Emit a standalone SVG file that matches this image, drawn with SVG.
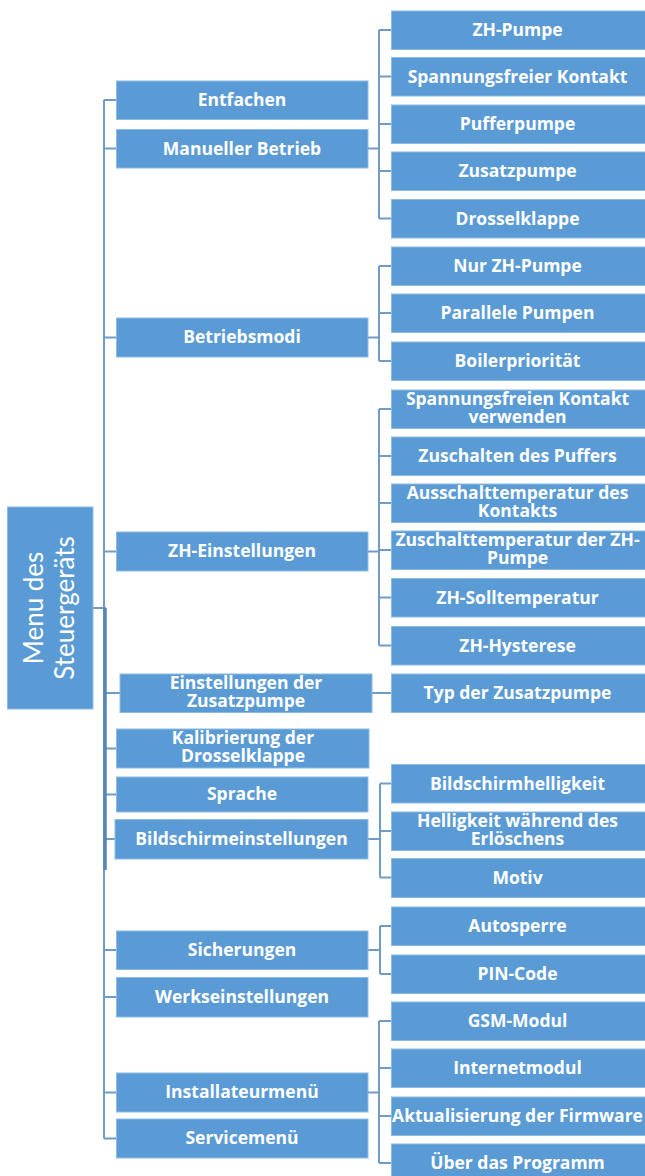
<svg xmlns="http://www.w3.org/2000/svg" width="645" height="1176" viewBox="0 0 645 1176">
<style>
.bx{fill:#5b9bd5;stroke:#8cbbe6;stroke-width:1}
.t{font-family:"Open Sans","Liberation Sans",sans-serif;font-weight:700;font-size:17.5px;fill:#ffffff;text-anchor:middle}
.rt{font-family:Lato,"Liberation Sans",sans-serif;font-weight:400;font-size:26px;fill:#ffffff;text-anchor:middle}
.ln{fill:none;stroke:#6f9bc6;stroke-width:2}
.lnd{fill:none;stroke:#5a86b3;stroke-width:3.5}
</style>
<rect width="645" height="1176" fill="#ffffff"/>
<g id="connectors">
<path class="ln" d="M104,100 V1138.5 M104,100 H116.5 M104,148.5 H116.5 M104,337.5 H116.5 M104,551.5 H116.5 M104,693 H120 M104,748.5 H116.5 M104,794.5 H116.5 M104,839 H115 M104,950 H116.5 M104,997 H116.5 M104,1092.5 H116.5 M104,1138.5 H116.5"/>
<path class="ln" d="M93,608 H106"/>
<path class="lnd" d="M105,608 V870"/>
<path class="ln" d="M368,148.5 H379 M379,30 V218.5 M379,30 H391.5 M379,76.5 H391.5 M379,124 H391.5 M379,171 H391.5 M379,218.5 H391.5"/>
<path class="ln" d="M368,337.5 H379 M379,266 V361 M379,266 H391.5 M379,313 H391.5 M379,361 H391.5"/>
<path class="ln" d="M368,551.5 H379 M379,409 V645.5 M379,409 H391.5 M379,456 H391.5 M379,503 H391.5 M379,550 H391.5 M379,597.5 H391.5 M379,645.5 H391.5"/>
<path class="ln" d="M372,693 H391.5"/>
<path class="ln" d="M368,839 H380 M380,783.5 V877.5 M380,783.5 H391.5 M380,831 H391.5 M380,877.5 H391.5"/>
<path class="ln" d="M368,950 H380 M380,926 V974 M380,926 H391.5 M380,974 H391.5"/>
<path class="ln" d="M368,1092.5 H379 M379,1021 V1163 M379,1021 H391.5 M379,1068 H391.5 M379,1116 H391.5 M379,1163 H391.5"/>
</g>
<g id="n-root"><rect class="bx" x="7.5" y="507" width="85.5" height="202"/>
<text class="rt" transform="translate(50.5,608) rotate(-90)"><tspan x="0" y="-7.5">Menu des</tspan><tspan x="0" y="23.5">Steuergeräts</tspan></text></g>
<g id="n-entfachen"><rect class="bx" x="116.5" y="81" width="251.5" height="38.5"/><text class="t" x="242" y="106">Entfachen</text></g>
<g id="n-manuell"><rect class="bx" x="116.5" y="129.5" width="251.5" height="38.5"/><text class="t" x="242" y="154.5">Manueller Betrieb</text></g>
<g id="n-betriebsmodi"><rect class="bx" x="116.5" y="318" width="251.5" height="39"/><text class="t" x="242" y="343">Betriebsmodi</text></g>
<g id="n-zh"><rect class="bx" x="116.5" y="532" width="251.5" height="39"/><text class="t" x="242" y="557">ZH-Einstellungen</text></g>
<g id="n-zusatz"><rect class="bx" x="120" y="674" width="252" height="38.5"/><text class="t"><tspan x="246" y="688.5">Einstellungen der</tspan><tspan x="246" y="707">Zusatzpumpe</tspan></text></g>
<g id="n-kalib"><rect class="bx" x="116.5" y="729" width="252.5" height="39"/><text class="t"><tspan x="243" y="743.5">Kalibrierung der</tspan><tspan x="243" y="762">Drosselklappe</tspan></text></g>
<g id="n-sprache"><rect class="bx" x="116.5" y="777" width="251.5" height="35"/><text class="t" x="242" y="799.5">Sprache</text></g>
<g id="n-bildschirm"><rect class="bx" x="115" y="819.5" width="253" height="39.5"/><text class="t" x="241.5" y="844.5">Bildschirmeinstellungen</text></g>
<g id="n-sicherungen"><rect class="bx" x="116.5" y="931" width="251.5" height="38.5"/><text class="t" x="242" y="956">Sicherungen</text></g>
<g id="n-werk"><rect class="bx" x="116.5" y="977.5" width="251.5" height="39.5"/><text class="t" x="242" y="1002.5">Werkseinstellungen</text></g>
<g id="n-install"><rect class="bx" x="116.5" y="1073" width="251.5" height="39"/><text class="t" x="242" y="1098">Installateurmenü</text></g>
<g id="n-service"><rect class="bx" x="116.5" y="1119" width="251.5" height="39"/><text class="t" x="242" y="1144">Servicemenü</text></g>
<g id="n-zhpumpe"><rect class="bx" x="391.5" y="11" width="254" height="38.5"/><text class="t" x="517.5" y="36">ZH-Pumpe</text></g>
<g id="n-spfrei"><rect class="bx" x="391.5" y="57.5" width="254" height="38.5"/><text class="t" x="517.5" y="82.5">Spannungsfreier Kontakt</text></g>
<g id="n-puffer"><rect class="bx" x="391.5" y="105" width="254" height="38.5"/><text class="t" x="517.5" y="130">Pufferpumpe</text></g>
<g id="n-zpumpe"><rect class="bx" x="391.5" y="152" width="254" height="38.5"/><text class="t" x="517.5" y="177">Zusatzpumpe</text></g>
<g id="n-drossel"><rect class="bx" x="391.5" y="199.5" width="254" height="38.5"/><text class="t" x="517.5" y="224.5">Drosselklappe</text></g>
<g id="n-nurzh"><rect class="bx" x="391.5" y="247" width="254" height="38.5"/><text class="t" x="517.5" y="272">Nur ZH-Pumpe</text></g>
<g id="n-parallel"><rect class="bx" x="391.5" y="294" width="254" height="38.5"/><text class="t" x="517.5" y="319">Parallele Pumpen</text></g>
<g id="n-boiler"><rect class="bx" x="391.5" y="342" width="254" height="38.5"/><text class="t" x="517.5" y="367">Boilerpriorität</text></g>
<g id="n-spverw"><rect class="bx" x="391.5" y="390" width="254" height="38.5"/><text class="t"><tspan x="517.5" y="404.5">Spannungsfreien Kontakt</tspan><tspan x="517.5" y="423">verwenden</tspan></text></g>
<g id="n-zuschpuffer"><rect class="bx" x="391.5" y="437" width="254" height="38.5"/><text class="t" x="517.5" y="462">Zuschalten des Puffers</text></g>
<g id="n-aussch"><rect class="bx" x="391.5" y="484" width="254" height="38.5"/><text class="t"><tspan x="517.5" y="498.5">Ausschalttemperatur des</tspan><tspan x="517.5" y="517">Kontakts</tspan></text></g>
<g id="n-zuschtemp"><rect class="bx" x="391.5" y="531" width="254" height="38.5"/><text class="t"><tspan x="517.5" y="545.5">Zuschalttemperatur der ZH-</tspan><tspan x="517.5" y="564">Pumpe</tspan></text></g>
<g id="n-soll"><rect class="bx" x="391.5" y="578.5" width="254" height="38.5"/><text class="t" x="517.5" y="603.5">ZH-Solltemperatur</text></g>
<g id="n-hyst"><rect class="bx" x="391.5" y="626.5" width="254" height="38.5"/><text class="t" x="517.5" y="651.5">ZH-Hysterese</text></g>
<g id="n-typ"><rect class="bx" x="391.5" y="674" width="254" height="38.5"/><text class="t" x="517.5" y="699">Typ der Zusatzpumpe</text></g>
<g id="n-hell"><rect class="bx" x="391.5" y="764.5" width="254" height="38.5"/><text class="t" x="517.5" y="789.5">Bildschirmhelligkeit</text></g>
<g id="n-hellerl"><rect class="bx" x="391.5" y="812" width="254" height="38.5"/><text class="t"><tspan x="517.5" y="826.5">Helligkeit während des</tspan><tspan x="517.5" y="845">Erlöschens</tspan></text></g>
<g id="n-motiv"><rect class="bx" x="391.5" y="858.5" width="254" height="39"/><text class="t" x="517.5" y="883.5">Motiv</text></g>
<g id="n-auto"><rect class="bx" x="391.5" y="907" width="254" height="38.5"/><text class="t" x="517.5" y="932">Autosperre</text></g>
<g id="n-pin"><rect class="bx" x="391.5" y="955" width="254" height="38.5"/><text class="t" x="517.5" y="980">PIN-Code</text></g>
<g id="n-gsm"><rect class="bx" x="391.5" y="1002" width="254" height="38.5"/><text class="t" x="517.5" y="1027">GSM-Modul</text></g>
<g id="n-internet"><rect class="bx" x="391.5" y="1049" width="254" height="38.5"/><text class="t" x="517.5" y="1074">Internetmodul</text></g>
<g id="n-firmware"><rect class="bx" x="391.5" y="1097" width="254" height="38.5"/><text class="t" x="517.5" y="1122">Aktualisierung der Firmware</text></g>
<g id="n-ueber"><rect class="bx" x="391.5" y="1144" width="254" height="39"/><text class="t" x="517.5" y="1169">Über das Programm</text></g>
</svg>
